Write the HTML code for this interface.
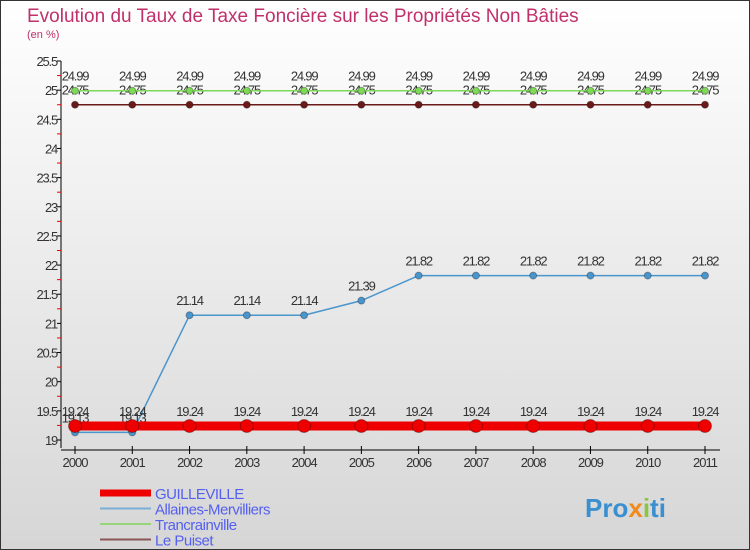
<!DOCTYPE html>
<html><head><meta charset="utf-8"><style>
body{margin:0;}
svg{display:block;font-family:"Liberation Sans",sans-serif;}
</style></head><body>
<svg id="c" width="750" height="550" xmlns="http://www.w3.org/2000/svg">
<defs><linearGradient id="bg" x1="0" y1="0" x2="0" y2="1"><stop offset="0" stop-color="#ffffff"/><stop offset="1" stop-color="#d6d6d6"/></linearGradient></defs>
<rect x="0.5" y="0.5" width="749" height="549" fill="url(#bg)" stroke="#333"/>
<text x="27" y="22" font-size="19" fill="#c0306a">Evolution du Taux de Taxe Foncière sur les Propriétés Non Bâties</text>
<text x="27" y="38" font-size="11" fill="#c0306a">(en %)</text>
<g id="axes"></g><g id="series"></g><g id="legend"></g>
<text x="585" y="517" font-size="26" font-weight="bold" fill="#3a8fd0">Pro<tspan fill="#f08a1c">x</tspan><tspan fill="#8cc63f">i</tspan>ti</text>
</svg>
<script>
const years=[2000,2001,2002,2003,2004,2005,2006,2007,2008,2009,2010,2011];
const guilleville=[19.24,19.24,19.24,19.24,19.24,19.24,19.24,19.24,19.24,19.24,19.24,19.24];
const allaines=[19.13,19.13,21.14,21.14,21.14,21.39,21.82,21.82,21.82,21.82,21.82,21.82];
const trancrainville=[24.99,24.99,24.99,24.99,24.99,24.99,24.99,24.99,24.99,24.99,24.99,24.99];
const lepuiset=[24.75,24.75,24.75,24.75,24.75,24.75,24.75,24.75,24.75,24.75,24.75,24.75];
const yTicks=[19,19.5,20,20.5,21,21.5,22,22.5,23,23.5,24,24.5,25,25.5];
const NS="http://www.w3.org/2000/svg";
const X=i=>75+i*(705-75)/11;
const Y=v=>440-(v-19)*(440-61)/6.5;
function mk(p,t,a){const e=document.createElementNS(NS,t);for(const k in a)e.setAttribute(k,a[k]);p.appendChild(e);return e;}
const ax=document.getElementById('axes');
let yl=mk(ax,'line',{x1:61,y1:61,x2:61,y2:448,stroke:'#000'});

yTicks.forEach((v,k)=>{
 mk(ax,'line',{x1:57,x2:61,y1:Y(v),y2:Y(v),stroke:'#000'});
 if(k<yTicks.length-1) mk(ax,'line',{x1:57,x2:61,y1:Y(v+0.25),y2:Y(v+0.25),stroke:'#e00'});
 const t=mk(ax,'text',{x:57,y:Y(v)+5,'font-size':13,'text-anchor':'end',fill:'#333','letter-spacing':'-1.2'});
 t.textContent=String(v);
 
});
let xl=mk(ax,'line',{x1:61,y1:450,x2:720,y2:450,stroke:'#000'});

years.forEach((y,i)=>{
 mk(ax,'line',{x1:X(i),x2:X(i),y1:446,y2:454,stroke:'#000'});
 const t=mk(ax,'text',{x:X(i),y:467,'font-size':13,'text-anchor':'middle',fill:'#333','letter-spacing':'-1'});
 t.textContent=y;
 
});
const se=document.getElementById('series');
function draw(data,color,w,r,name){
 const g=mk(se,'g',{});
 
 mk(g,'polyline',{points:data.map((v,i)=>X(i)+','+Y(v)).join(' '),fill:'none',stroke:color,'stroke-width':w});
 data.forEach((v,i)=>{
  const c=mk(g,'circle',{cx:X(i),cy:Y(v),r:r,fill:color,stroke:'rgba(0,0,0,0.3)'});
  
  const t=mk(g,'text',{x:X(i),y:Y(v)-10,'font-size':13,'text-anchor':'middle',fill:'#333','letter-spacing':'-1.2'});
  t.textContent=v.toFixed(2).replace(/0$/,'');
  
 });
}
draw(lepuiset,'#6b1a1a',1.5,3.5,'series-le-puiset');
draw(trancrainville,'#7ed957',1.5,3.5,'series-trancrainville');
draw(allaines,'#4a95cc',1.5,3.5,'series-allaines-mervilliers');
draw(guilleville,'#ee0000',9,6.5,'series-guilleville');
const lg=document.getElementById('legend');
[['GUILLEVILLE','#ee0000',7],['Allaines-Mervilliers','#7aaed6',2],['Trancrainville','#98d47a',2],['Le Puiset','#8a5555',2]].forEach((d,i)=>{
 const y=492+i*15.5;
 const g=mk(lg,'g',{});
 
 mk(g,'line',{x1:100,x2:151,y1:y+1,y2:y+1,stroke:d[1],'stroke-width':d[2]});
 const t=mk(g,'text',{x:155,y:y+7,'font-size':15,fill:'#5560ee','letter-spacing':'-0.5'});
 t.textContent=d[0];
});
</script>
</body></html>
